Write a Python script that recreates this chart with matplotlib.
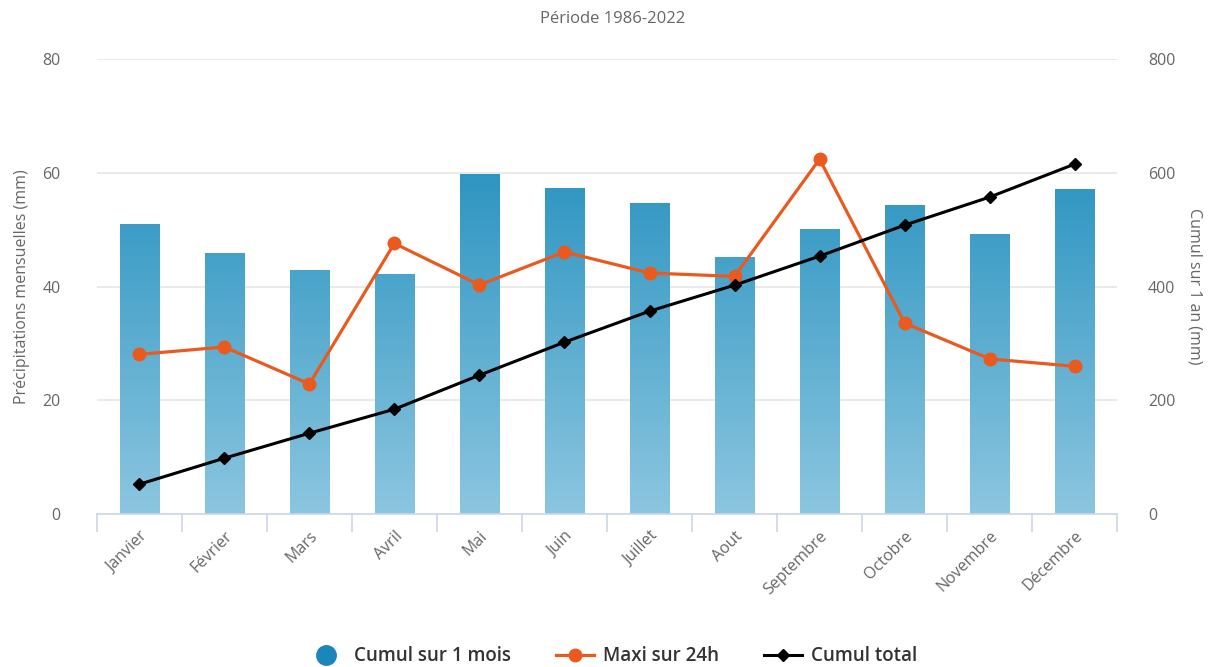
import numpy as np
import matplotlib.pyplot as plt
from matplotlib.colors import LinearSegmentedColormap
from matplotlib.lines import Line2D

plt.rcParams['font.family'] = ['Open Sans', 'DejaVu Sans']

mois = ['Janvier', 'Février', 'Mars', 'Avril', 'Mai', 'Juin', 'Juillet',
        'Aout', 'Septembre', 'Octobre', 'Novembre', 'Décembre']
cumul_mois = [51.0, 45.9, 42.9, 42.2, 59.8, 57.3, 54.7, 45.2, 50.1, 54.3, 49.2, 57.1]
maxi_24h = [28.1, 29.4, 22.9, 47.6, 40.3, 46.1, 42.4, 41.8, 62.4, 33.6, 27.3, 26.0]
cumul_total = [52.7, 98.5, 142.4, 184.6, 244.4, 302.4, 356.9, 402.6, 453.6, 508.1, 557.4, 615.4]

GRIS = '#666666'
BLEU_HAUT = '#2e95c1'
BLEU_BAS = '#8cc6e0'
ORANGE = '#ea5a1f'

fig = plt.figure(figsize=(12.25, 6.67), dpi=100)
ax = fig.add_axes([0.079, 0.229, 0.833, 0.6825])
x = np.arange(len(mois))

# colonnes avec degrade vertical
bars = ax.bar(x, cumul_mois, width=0.46, color='none', edgecolor='none', zorder=2)
cmap = LinearSegmentedColormap.from_list('bleu', [BLEU_BAS, BLEU_HAUT])
grad = np.linspace(0, 1, 256).reshape(-1, 1)
for b in bars:
    im = ax.imshow(grad, cmap=cmap, origin='lower', aspect='auto',
                   extent=[b.get_x(), b.get_x() + b.get_width(), 0, 60],
                   zorder=2, interpolation='bilinear')
    im.set_clip_path(b)

ax.plot(x, maxi_24h, color=ORANGE, lw=2.3, marker='o', ms=9, zorder=4)

ax.set_xlim(-0.5, len(mois) - 0.5)
ax.set_ylim(0, 80)
ax.set_yticks([0, 20, 40, 60, 80])
ax.grid(axis='y', color='#e6e6e6', lw=1.2, zorder=0)
ax.set_axisbelow(True)
for s in ['top', 'right', 'left']:
    ax.spines[s].set_visible(False)
ax.spines['bottom'].set_color('#ccd6eb')
ax.spines['bottom'].set_linewidth(1.2)

ax.set_xticks(np.arange(-0.5, len(mois), 1), minor=False)
ax.set_xticklabels([])
ax.tick_params(axis='x', which='major', length=13, color='#ccd6eb', width=1.2)
ax.set_xticks(x, minor=True)
ax.set_xticklabels(mois, minor=True, rotation=45, ha='right', va='top',
                   rotation_mode='anchor', color=GRIS, fontsize=11.5)
ax.tick_params(axis='x', which='minor', length=0, pad=10)
ax.tick_params(axis='y', length=0, labelcolor=GRIS, labelsize=11.5, pad=26)
ax.set_ylabel('Précipitations mensuelles (mm)', color=GRIS, fontsize=11.5, labelpad=9)

ax2 = ax.twinx()
ax2.plot(x, cumul_total, color='black', lw=2.2, marker='D', ms=6.5, zorder=5)
ax2.set_ylim(0, 800)
ax2.set_yticks([0, 200, 400, 600, 800])
for s in ax2.spines.values():
    s.set_visible(False)
ax2.tick_params(axis='y', length=0, labelcolor=GRIS, labelsize=11.5, pad=22)
ax2.set_ylabel('Cumul sur 1 an (mm)', color=GRIS, fontsize=11.5, rotation=270, labelpad=20)

fig.text(0.5, 0.972, 'Période 1986-2022', ha='center', va='center', color=GRIS, fontsize=12)

handles = [
    Line2D([], [], ls='none', marker='o', ms=14, color='#1a86bc'),
    Line2D([], [], color=ORANGE, lw=2.3, marker='o', ms=9),
    Line2D([], [], color='black', lw=2.2, marker='D', ms=6.5),
]
fig.legend(handles, ['Cumul sur 1 mois', 'Maxi sur 24h', 'Cumul total'],
           loc='center', bbox_to_anchor=(0.5, 0.016), ncol=3, frameon=False,
           prop={'size': 13.5, 'weight': 'semibold'}, labelcolor='#333333',
           handlelength=2.0, columnspacing=2.4, handletextpad=0.5)

fig.savefig('out.png', dpi=100)
